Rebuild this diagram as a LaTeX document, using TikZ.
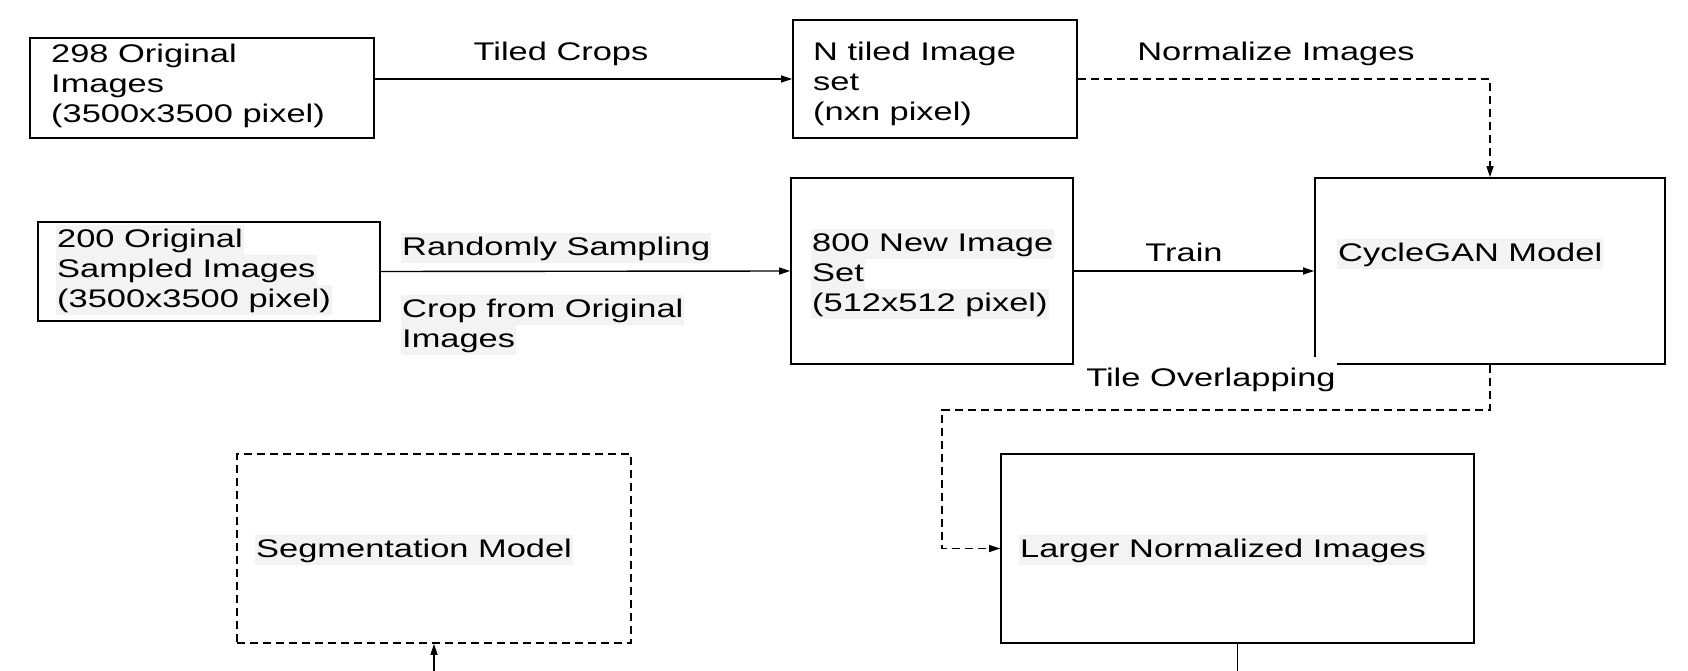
\documentclass[tikz,border=0pt]{standalone}
\usepackage{fontspec}
\setmainfont{Liberation Sans}[FakeStretch=1.35]
\usetikzlibrary{arrows.meta}
\definecolor{hlgray}{HTML}{F3F3F3}
\newcommand\hlbox[1]{{\setlength{\fboxsep}{1pt}\colorbox{hlgray}{\rule[-6.5pt]{0pt}{28pt}#1}}}
\tikzset{
  box/.style={draw, line width=1.7pt, inner sep=0pt},
  dbox/.style={box, dash pattern=on 8pt off 5pt},
  txt/.style={anchor=west, align=left, inner sep=0pt, font=\fontsize{25.5}{30}\selectfont},
  lbl/.style={inner sep=0pt, font=\fontsize{25.5}{30}\selectfont},
  conn/.style={line width=1.4pt},
  arr/.style={conn, -{Triangle[length=11pt,width=7pt]}},
  darr/.style={arr, dash pattern=on 8pt off 5pt},
}
\begin{document}
\begin{tikzpicture}[x=1pt,y=-1pt]
\useasboundingbox (0,0) rectangle (1688,671);
% boxes
\node[box, minimum width=344pt, minimum height=100pt] (A) at (202,88) {};
\node[box, minimum width=284pt, minimum height=118pt] (B) at (935,79) {};
\node[box, minimum width=342pt, minimum height=99pt] (C) at (209,271.5) {};
\node[box, minimum width=282pt, minimum height=186pt] (D) at (932,271) {};
\node[box, minimum width=350pt, minimum height=186pt] (E) at (1490,271) {};
\node[dbox, minimum width=394pt, minimum height=189pt] (F) at (434,548.5) {};
\node[box, minimum width=473pt, minimum height=189pt] (G) at (1237.5,548.5) {};
% box texts
\node[txt] (tA) at (51,86) {298 Original\\Images\\(3500x3500 pixel)};
\node[txt] (tB) at (813,84) {N tiled Image\\set\\(nxn pixel)};
\node[txt] (tC) at (56,270) {\hlbox{200 Original}\\\hlbox{Sampled Images}\\\hlbox{(3500x3500 pixel)}};
\node[txt] (tD) at (811,274) {\hlbox{800 New Image}\\\hlbox{Set}\\\hlbox{(512x512 pixel)}};
\node[txt] (tE) at (1337,254) {\hlbox{CycleGAN Model}};
\node[txt] (tF) at (255,550) {\hlbox{Segmentation Model}};
\node[txt] (tG) at (1019,550) {\hlbox{Larger Normalized Images}};
% connectors
\draw[arr] (A.east |- B.west) -- (B.west);
\draw[darr] (B.east) -| (E.north);
\draw[arr] (C.east) -- (D.west);
\draw[arr] (D.east) -- (E.west);
\draw[darr] (E.south) -- ++(0,45) -| ([xshift=-58pt]G.west) -- (G.west);
\coordinate (gout) at (1237.5,671);
\draw[conn] (G.south) -- (gout);
\coordinate (fin) at (434,671);
\draw[arr] (fin) -- (F.south);
% connector labels
\node[lbl] (lAB) at (561,54) {Tiled Crops};
\node[lbl] (lBE) at (1276,54) {Normalize Images};
\node[txt] (lCD1) at (401,248) {\hlbox{Randomly Sampling}};
\node[txt] (lCD2) at (401,325) {\hlbox{Crop from Original}\\\hlbox{Images}};
\node[lbl] (lDE) at (1184,252) {Train};
\node[lbl, fill=white, inner xsep=1pt, inner ysep=11pt] (lEG) at (1211,380) {Tile Overlapping};
\end{tikzpicture}
\end{document}
